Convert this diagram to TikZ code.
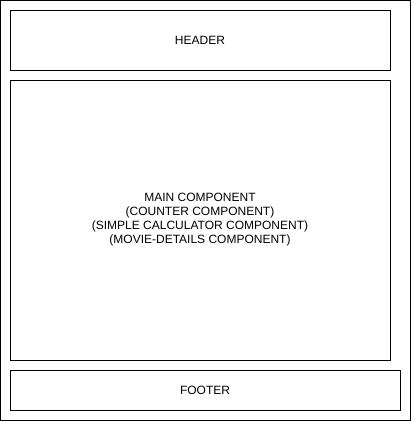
\documentclass[tikz,border=0pt]{standalone}
\usepackage{fontspec}
\setmainfont{Liberation Sans}
\begin{document}
\begin{tikzpicture}[x=1pt,y=-1pt,
  box/.style={draw=black,line width=1pt},
  lbl/.style={font=\fontsize{12}{14}\selectfont,align=center,inner sep=0pt}]
\useasboundingbox (0,0) rectangle (412,422);
\draw[box] (0.5,0.5) rectangle (410.5,420.5);
\draw[box] (10.5,10.5) rectangle (390.5,70.5);
\draw[box] (10.5,80.5) rectangle (390.5,360.5);
\draw[box] (10.5,370.5) rectangle (400.5,410.5);
\node[lbl] (header) at (200,40.5) {HEADER};
\node[lbl] (main) at (200,220) {MAIN COMPONENT\\(COUNTER COMPONENT)\\(SIMPLE CALCULATOR COMPONENT)\\(MOVIE-DETAILS COMPONENT)};
\node[lbl] (footer) at (205,390.5) {FOOTER};
\end{tikzpicture}
\end{document}
